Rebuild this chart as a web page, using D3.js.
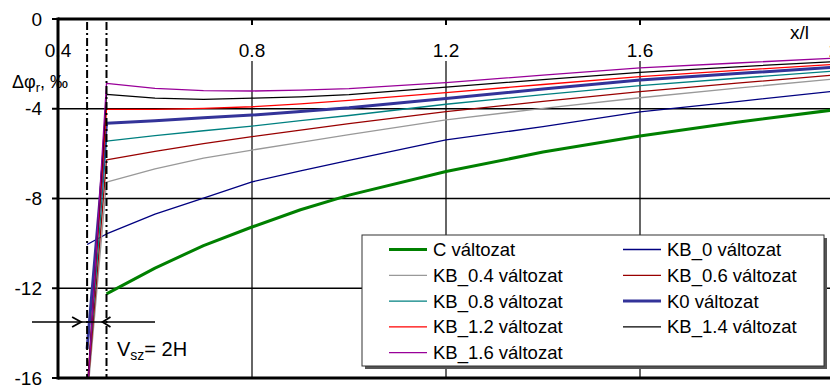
<!DOCTYPE html>
<html>
<head>
<meta charset="utf-8">
<script src="https://cdn.jsdelivr.net/npm/d3@7"></script>
<style>
body { margin: 0; background: #fff; }
svg { font-family: "Liberation Sans", Arial, sans-serif; display: block; }
</style>
</head>
<body>
<svg></svg>
<script>
// x/l positions shared by all series
var xs = [0.46, 0.5, 0.6, 0.7, 0.8, 0.9, 1.0, 1.2, 1.4, 1.6, 1.8, 2.0];

var C     = [null, -12.25, -11.1, -10.1, -9.27, -8.5, -7.85, -6.8, -5.93, -5.21, -4.6, -4.05];
var KB0   = [-10.05, -9.58, -8.7, -7.98, -7.26, -6.77, -6.3, -5.39, -4.8, -4.14, -3.68, -3.22];
var KB04  = [-17, -7.27, -6.68, -6.2, -5.84, -5.5, -5.15, -4.5, -3.98, -3.51, -3.08, -2.67];
var KB06  = [-16.8, -6.28, -5.9, -5.55, -5.24, -4.95, -4.66, -4.13, -3.67, -3.24, -2.86, -2.5];
var KB08  = [-16.5, -5.44, -5.2, -4.98, -4.77, -4.53, -4.3, -3.8, -3.37, -2.97, -2.64, -2.32];
var K0    = [-14.7, -4.65, -4.53, -4.4, -4.28, -4.12, -3.96, -3.54, -3.12, -2.72, -2.43, -2.15];
var KB12  = [-16.6, -4.03, -4.03, -3.98, -3.91, -3.78, -3.63, -3.28, -2.92, -2.57, -2.29, -2.02];
var KB14  = [-16.8, -3.36, -3.53, -3.58, -3.53, -3.47, -3.37, -3.04, -2.7, -2.38, -2.13, -1.9];
var KB16  = [-17, -2.87, -3.09, -3.19, -3.21, -3.17, -3.1, -2.84, -2.5, -2.18, -1.96, -1.75];

var seriesNames = ["C változat", "KB_0 változat", "KB_0.4 változat", "KB_0.6 változat", "KB_0.8 változat",
                   "K0 változat", "KB_1.2 változat", "KB_1.4 változat", "KB_1.6 változat"];
var seriesValues = [C, KB0, KB04, KB06, KB08, K0, KB12, KB14, KB16];
var seriesColors = ["#008000", "#000080", "#999999", "#990000", "#008080", "#333399", "#ff0000", "#000000", "#990099"];
var seriesWidths = [3, 1.3, 1.3, 1.3, 1.3, 3, 1.3, 1.3, 1.3];

var xTicks = [0.4, 0.8, 1.2, 1.6, 2.0];
var yTicks = [0, -4, -8, -12, -16];
var markers = [0.46, 0.5];   // dash-dot verticals

var W = 830, H = 385;
var svg = d3.select("svg").attr("width", W).attr("height", H);

var x = d3.scaleLinear().domain([0.4, 2.0]).range([58, 834]);
var y = d3.scaleLinear().domain([0, -16]).range([19, 378]);

svg.append("defs").append("clipPath").attr("id", "plot")
  .append("rect").attr("x", x(0.4)).attr("y", y(0)).attr("width", x(2.0) - x(0.4)).attr("height", y(-16) - y(0));

// grid (vertical ones start under the tick labels)
svg.selectAll(".vgrid").data([0.8, 1.2, 1.6]).enter().append("line")
  .attr("x1", d => x(d)).attr("x2", d => x(d)).attr("y1", 61).attr("y2", y(-16))
  .style("stroke", "#333").style("stroke-width", 1.5);
svg.selectAll(".hgrid").data([-4, -8, -12]).enter().append("line")
  .attr("x1", x(0.4)).attr("x2", x(2.0)).attr("y1", d => y(d)).attr("y2", d => y(d))
  .style("stroke", "#000").style("stroke-width", 1.3);

// series
var line = d3.line().defined(d => d.v != null).x(d => x(d.x)).y(d => y(d.v));
var g = svg.append("g").attr("clip-path", "url(#plot)");
seriesValues.forEach(function(vals, i){
  var pts = xs.map((xv, j) => ({x: xv, v: vals[j]}));
  g.append("path").datum(pts).attr("d", line)
    .style("fill", "none").style("stroke", seriesColors[i]).style("stroke-width", seriesWidths[i])
    .style("stroke-linejoin", "round");
});

// dash-dot verticals
svg.selectAll(".mark").data(markers).enter().append("line")
  .attr("x1", d => x(d)).attr("x2", d => x(d)).attr("y1", y(0) + 3).attr("y2", y(-16))
  .style("stroke", "#000").style("stroke-width", 2).style("stroke-dasharray", "8,3,2,3");

// axes frame
svg.append("line").attr("x1", x(0.4)).attr("x2", W).attr("y1", y(0)).attr("y2", y(0))
  .style("stroke", "#000").style("stroke-width", 3);
svg.append("line").attr("x1", x(0.4)).attr("x2", W).attr("y1", y(-16)).attr("y2", y(-16))
  .style("stroke", "#000").style("stroke-width", 3);
svg.append("line").attr("x1", x(0.4)).attr("x2", x(0.4)).attr("y1", y(0) - 1.5).attr("y2", y(-16) + 1.5)
  .style("stroke", "#000").style("stroke-width", 3);

// ticks
svg.selectAll(".xt").data(xTicks).enter().append("line")
  .attr("x1", d => x(d)).attr("x2", d => x(d)).attr("y1", y(0)).attr("y2", y(0) + 6)
  .style("stroke", "#000").style("stroke-width", 2);
svg.selectAll(".yt").data(yTicks).enter().append("line")
  .attr("x1", x(0.4) - 6).attr("x2", x(0.4)).attr("y1", d => y(d)).attr("y2", d => y(d))
  .style("stroke", "#000").style("stroke-width", 2);

svg.selectAll(".xl").data(xTicks).enter().append("text")
  .attr("x", d => x(d)).attr("y", 57).attr("text-anchor", "middle")
  .style("font-size", "19px").text(d => d === 2 ? "2" : d3.format(".1f")(d));
svg.selectAll(".yl").data(yTicks).enter().append("text")
  .attr("x", 42).attr("y", d => y(d) + 6.5).attr("text-anchor", "end")
  .style("font-size", "19px").text(d => d);

svg.append("text").attr("x", 790).attr("y", 39).style("font-size", "19px").text("x/l");

var yl = svg.append("text").attr("x", 12).attr("y", 88).style("font-size", "18px");
yl.append("tspan").text("Δφ");
yl.append("tspan").attr("dy", 4).style("font-size", "13px").text("r");
yl.append("tspan").attr("dy", -4).text(", ‰");

// V_sz annotation
var ay = 322;
svg.append("line").attr("x1", 32).attr("x2", 155).attr("y1", ay).attr("y2", ay)
  .style("stroke", "#000").style("stroke-width", 1.5);
var tipR = x(0.46) - 6, tipL = x(0.5) - 4;
svg.append("path").attr("d", "M" + (tipR - 9) + "," + (ay - 5) + "L" + tipR + "," + ay + "L" + (tipR - 9) + "," + (ay + 5))
  .style("fill", "none").style("stroke", "#000").style("stroke-width", 1.8);
svg.append("path").attr("d", "M" + (tipL + 8) + "," + (ay - 5) + "L" + tipL + "," + ay + "L" + (tipL + 8) + "," + (ay + 5))
  .style("fill", "none").style("stroke", "#000").style("stroke-width", 1.8);
var vt = svg.append("text").attr("x", 117).attr("y", 356).style("font-size", "20px");
vt.append("tspan").text("V");
vt.append("tspan").attr("dy", 4).style("font-size", "14px").text("sz");
vt.append("tspan").attr("dy", -4).text("= 2H");

// legend
var lx = 362, ly = 235, lw = 462, lh = 131;
svg.append("rect").attr("x", lx + 3).attr("y", ly + 3).attr("width", lw).attr("height", lh).style("fill", "#555");
svg.append("rect").attr("x", lx).attr("y", ly).attr("width", lw).attr("height", lh)
  .style("fill", "#fff").style("stroke", "#333").style("stroke-width", 1);
seriesNames.forEach(function(name, i){
  var col = i % 2, row = Math.floor(i / 2);
  var ex = col === 0 ? 389 : 623;
  var ey = 249.5 + row * 25.8;
  svg.append("line").attr("x1", ex).attr("x2", ex + 38).attr("y1", ey).attr("y2", ey)
    .style("stroke", seriesColors[i]).style("stroke-width", seriesWidths[i]);
  svg.append("text").attr("x", ex + 44).attr("y", ey + 6.5).style("font-size", "18.5px").text(name);
});
</script>
</body>
</html>
